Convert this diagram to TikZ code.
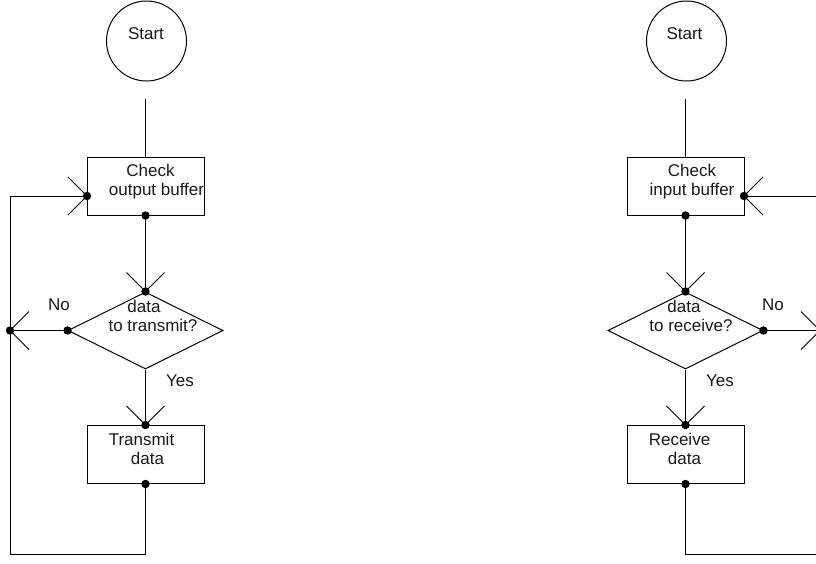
\documentclass[tikz,border=0pt]{standalone}
\usepackage{fontspec}
\setmainfont{Liberation Sans}
\usetikzlibrary{shapes.geometric}
\begin{document}
\begin{tikzpicture}[x=1pt,y=-1pt,
  ink/.style={draw=black, line width=1pt},
  proc/.style={ink, rectangle, minimum width=117pt, minimum height=58pt, inner sep=0pt},
  term/.style={ink, circle, minimum size=80pt, inner sep=0pt},
  decide/.style={ink, diamond, minimum width=155pt, minimum height=77pt, inner sep=0pt},
  lbl/.style={inner sep=0pt, align=center, text=black!90, font=\fontsize{17}{19}\selectfont},
  wire/.style={ink},
  tipin/.pic={
    \fill (0,0) circle (4.2pt);
    \draw[line width=1pt] (-19,-19) -- (0,0) -- (-19,19);
  }
]
\useasboundingbox (0,0) rectangle (816,563);
\clip (0,0) rectangle (816,563);

% ---------- transmit side ----------
\node[term] (s1) at (146.5,41) {};
\node[lbl] (s1t) at (146,34) {Start};
\node[proc] (b1) at (145.5,186) {};
\node[lbl] (b1t) at (156.5,182) {Check\hspace*{12pt}\\output buffer};
\node[decide] (d1) at (145.5,330.5) {};
\node[lbl] (d1t) at (153,315.5) {data\hspace*{18pt}\\to transmit?};
\node[proc] (t1) at (145.5,454.5) {};
\node[lbl] (t1t) at (141.5,448.5) {Transmit\\\hspace*{12pt}data};
\node[lbl] (no1) at (59,305) {No};
\node[lbl] (yes1) at (180,381) {Yes};

\coordinate (n1) at (10,330.5);
\coordinate (l1) at (10,554);
\coordinate (b1in) at (87,196);

\draw[wire] (b1.north) -- ++(0,-58);
\draw[wire] (b1.south) -- (d1.north);
\fill (b1.south) circle (4.2pt);
\pic[rotate=-90] at (d1.north) {tipin};
\draw[wire] (d1.west) -- (n1);
\fill (d1.west) circle (4.2pt);
\pic[rotate=180] at (n1) {tipin};
\draw[wire] (d1.south) -- (t1.north);
\pic[rotate=-90] at (t1.north) {tipin};
\draw[wire] (t1.south) |- (l1) |- (b1in);
\fill (t1.south) circle (4.2pt);
\pic at (b1in) {tipin};

% ---------- receive side ----------
\node[term] (s2) at (686.5,41) {};
\node[lbl] (s2t) at (684.5,34) {Start};
\node[proc] (b2) at (685.5,186) {};
\node[lbl] (b2t) at (692,182) {Check\\input buffer};
\node[decide] (d2) at (685.5,330.5) {};
\node[lbl] (d2t) at (691,315.5) {data\hspace*{14pt}\\to receive?};
\node[proc] (r2) at (685.5,454.5) {};
\node[lbl] (r2t) at (679.5,448.5) {Receive\\\hspace*{10pt}data};
\node[lbl] (no2) at (773,305) {No};
\node[lbl] (yes2) at (720,381) {Yes};

\coordinate (n2) at (820,330.5);
\coordinate (l2) at (820,554);
\coordinate (b2in) at (744,196);

\draw[wire] (b2.north) -- ++(0,-58);
\draw[wire] (b2.south) -- (d2.north);
\fill (b2.south) circle (4.2pt);
\pic[rotate=-90] at (d2.north) {tipin};
\draw[wire] (d2.east) -- (n2);
\fill (d2.east) circle (4.2pt);
\pic at (n2) {tipin};
\draw[wire] (d2.south) -- (r2.north);
\pic[rotate=-90] at (r2.north) {tipin};
\draw[wire] (r2.south) |- (l2) |- (b2in);
\fill (r2.south) circle (4.2pt);
\pic[rotate=180] at (b2in) {tipin};
\end{tikzpicture}
\end{document}
